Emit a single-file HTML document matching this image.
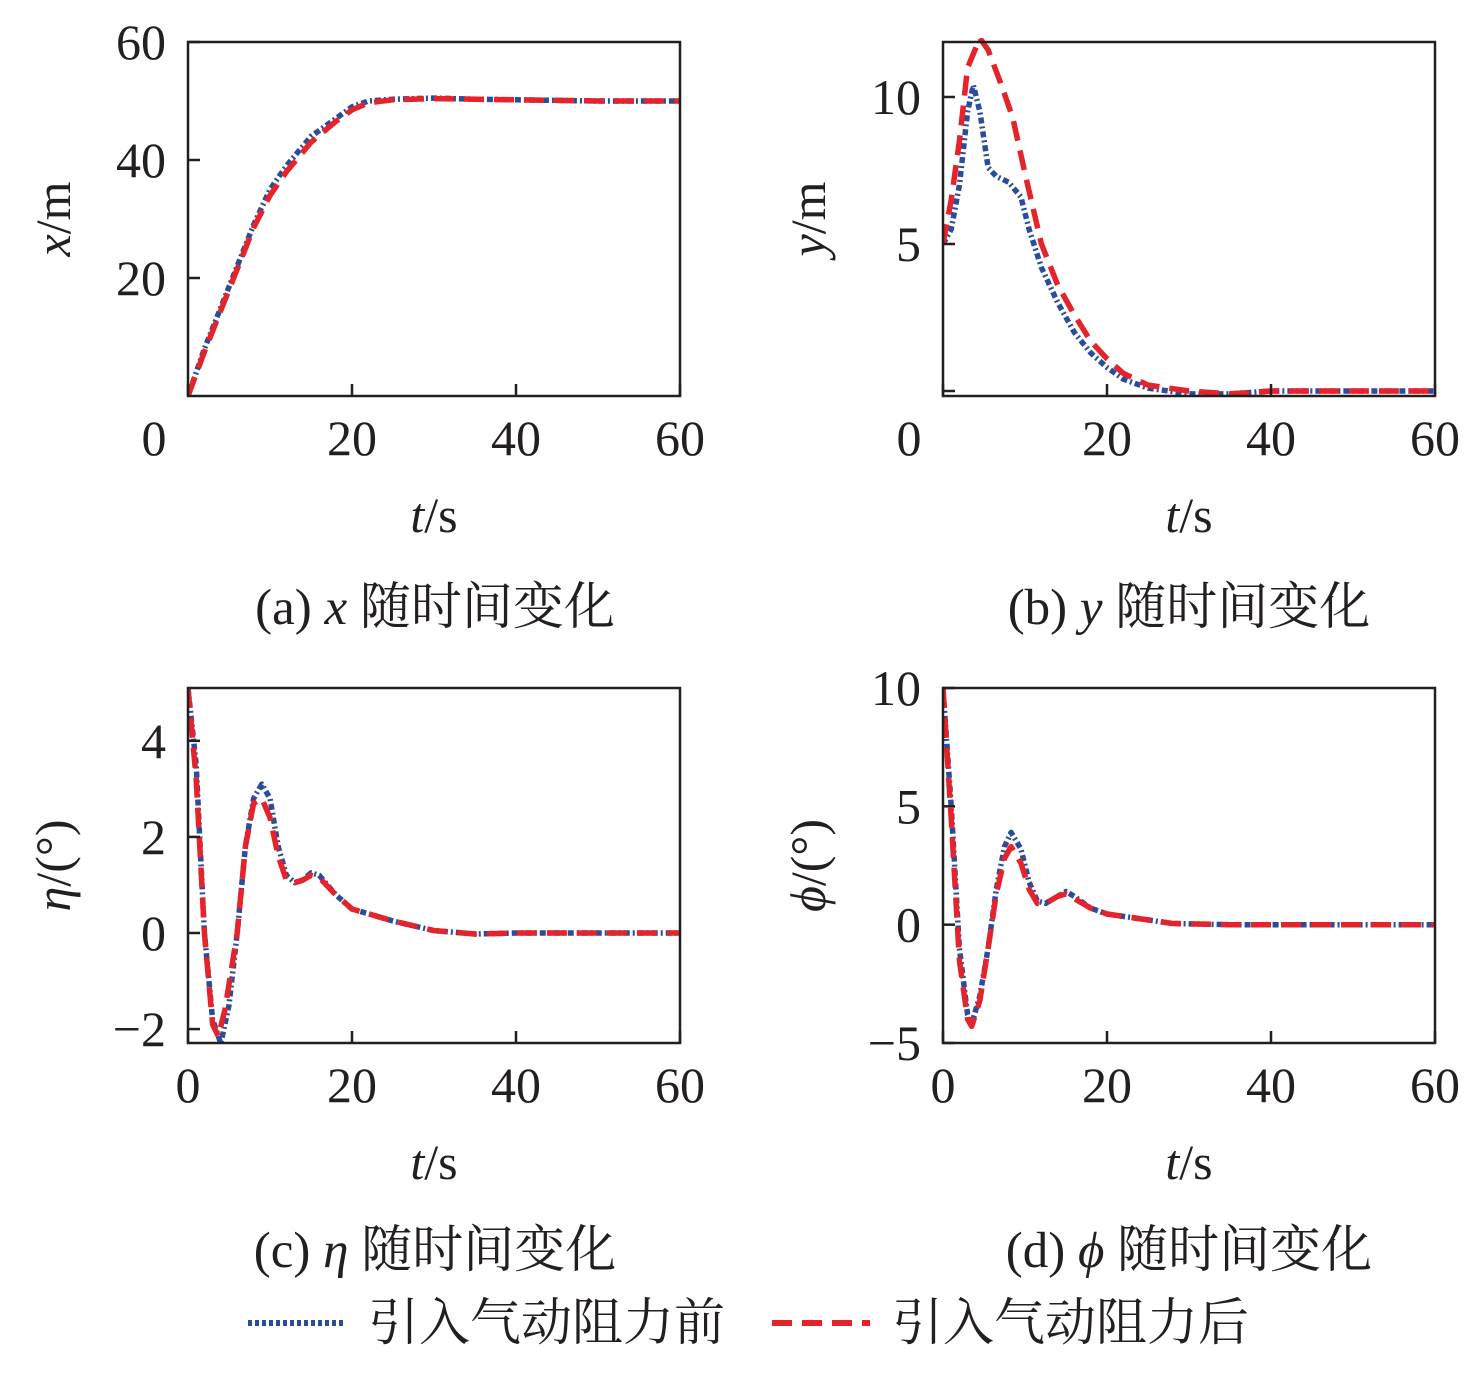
<!DOCTYPE html>
<html><head><meta charset="utf-8"><style>
body{margin:0;background:#fff;}
svg text{font-family:"Liberation Serif","Noto Serif CJK SC",serif;fill:#231f20;}
</style></head><body>
<svg id="chart" width="1476" height="1368" xmlns="http://www.w3.org/2000/svg"></svg>
<script>
const tA=[0,2,4,6,8,10,12,15,18,20,22,25,30,35,40,45,50,55,60];
const xBefore=[0,8,15,22,29,35,39,44,47,49,50,50.3,50.5,50.3,50.2,50.1,50,50,50];
const xAfter=[0,7.5,14.5,21.5,28.5,34,38,43,46.5,48.5,49.7,50.2,50.4,50.3,50.2,50.1,50,50,50];
const tB1=[0,1,2,3,3.7,4.5,5.5,6.5,8,9.5,10.5,12,14,16,18,20,22,25,30,35,40,50,60];
const yBefore=[5,5.5,7,9.5,10.4,9.5,7.6,7.3,7.1,6.6,5.5,4.2,3,2,1.3,0.8,0.4,0.1,-0.1,-0.1,0,0,0];
const tB2=[0,1,2,3,4.5,5.5,7,8.5,10,12,14,16,18,20,22,25,30,35,40,60];
const yAfter=[5,6.5,8.5,11,12,11.6,10.5,9.3,7.4,5,3.6,2.6,1.7,1.1,0.6,0.2,0,-0.1,0,0];
const tC1=[0,1,2,3,4,5,6,7,8,9,10,11,12,13,14,15,16,18,20,25,30,35,40,60];
const etaBefore=[5.1,3.5,0,-1.8,-2.3,-1.5,0,1.8,2.8,3.1,2.8,1.8,1.2,1.05,1.1,1.25,1.2,0.8,0.5,0.25,0.05,-0.02,0,0];
const tC2=[0,1,2,3,3.7,4.5,6,7,8,9,10,11,12,13,14,15,16,18,20,25,30,35,40,60];
const etaAfter=[5.1,3.2,0,-1.9,-2.15,-1.6,0,1.8,2.7,2.8,2.4,1.6,1.1,1.05,1.1,1.2,1.15,0.8,0.5,0.25,0.05,-0.02,0,0];
const tD=[0,1,2,3,3.5,4.5,5.5,6.5,7.5,8.3,9.5,10.5,11.5,12.5,14,15,16,18,20,25,28,35,60];
const phiBefore=[10,5,-1,-3.8,-4.2,-3,-1,1.5,3.3,3.9,3.2,1.8,1,0.9,1.2,1.4,1.2,0.7,0.45,0.2,0.05,0,0];
const phiAfter=[10,4.5,-1.5,-4,-4.3,-3.2,-1,1.3,2.8,3.3,2.6,1.5,0.9,0.9,1.2,1.3,1.1,0.7,0.45,0.2,0.05,0,0];
const xTicks=[0,20,40,60];

const svg=document.getElementById('chart');
const NS='http://www.w3.org/2000/svg';
function mk(tag,attrs,parent){const e=document.createElementNS(NS,tag);for(const k in attrs)e.setAttribute(k,attrs[k]);(parent||svg).appendChild(e);return e;}

const panels=[
 {id:'a',x0:188,x1:680,y0:42,y1:396,ymin:0,ymax:60,yt:[20,40,60],yl:['20','40','60'],xlblY:438,zeroOffset:true,
  ytitle:'<tspan font-style="italic">x</tspan>/m',series:[[tA,xBefore],[tA,xAfter]],
  cap:['(a) ','x',' 随时间变化'],capY:605,capX:435},
 {id:'b',x0:943,x1:1435,y0:42,y1:396,ymin:-0.17,ymax:11.87,yt:[0,5,10],yl:['','5','10'],xlblY:438,zeroOffset:true,
  ytitle:'<tspan font-style="italic">y</tspan>/m',series:[[tB1,yBefore],[tB2,yAfter]],
  cap:['(b) ','y',' 随时间变化'],capY:605,capX:1189},
 {id:'c',x0:188,x1:680,y0:688,y1:1043,ymin:-2.29,ymax:5.1,yt:[-2,0,2,4],yl:['−2','0','2','4'],xlblY:1085,
  ytitle:'<tspan font-style="italic">η</tspan>/(°)',series:[[tC1,etaBefore],[tC2,etaAfter]],
  cap:['(c) ','η',' 随时间变化'],capY:1248,capX:435},
 {id:'d',x0:943,x1:1435,y0:688,y1:1043,ymin:-5,ymax:10,yt:[-5,0,5,10],yl:['−5','0','5','10'],xlblY:1085,
  ytitle:'<tspan font-style="italic">ϕ</tspan>/(°)',series:[[tD,phiBefore],[tD,phiAfter]],
  cap:['(d) ','ϕ',' 随时间变化'],capY:1248,capX:1189}
];
const styles=[{stroke:'#2b4b9b',dash:'6,3,2,3',w:5.5},{stroke:'#e5232b',dash:'20,10',w:5.5}];
panels.forEach(p=>{
  const g=mk('g',{});
  
  
  const sx=t=>p.x0+(t-0)/60*(p.x1-p.x0);
  const sy=v=>p.y1-(v-p.ymin)/(p.ymax-p.ymin)*(p.y1-p.y0);
  const clip=mk('clipPath',{id:'clip'+p.id},g);
  mk('rect',{x:p.x0,y:p.y0-4,width:p.x1-p.x0,height:p.y1-p.y0+4},clip);
  p.series.forEach((s,i)=>{
    const pts=s[0].map((t,j)=>sx(t).toFixed(1)+','+sy(s[1][j]).toFixed(1)).join(' ');
    const pl=mk('polyline',{points:pts,fill:'none',stroke:styles[i].stroke,'stroke-width':styles[i].w,'stroke-dasharray':styles[i].dash,'stroke-linejoin':'round','clip-path':'url(#clip'+p.id+')'},g);
    
    
  });
  const box=mk('rect',{x:p.x0,y:p.y0,width:p.x1-p.x0,height:p.y1-p.y0,fill:'none',stroke:'#231f20','stroke-width':2.5},g);
  
  
  xTicks.forEach(t=>{
    mk('line',{x1:sx(t),x2:sx(t),y1:p.y1,y2:p.y1-12,stroke:'#231f20','stroke-width':2.5},g);
    let lx=sx(t); if(p.zeroOffset&&t===0) lx=p.x0-34;
    const tx=mk('text',{x:lx,y:p.xlblY+17,'font-size':50,'text-anchor':'middle'},g);
    tx.textContent=t;
    
    
  });
  p.yt.forEach((v,i)=>{
    mk('line',{x1:p.x0,x2:p.x0+12,y1:sy(v),y2:sy(v),stroke:'#231f20','stroke-width':2.5},g);
    if(p.yl[i]){const tx=mk('text',{x:p.x0-22,y:sy(v)+17,'font-size':50,'text-anchor':'end'},g);
    tx.textContent=p.yl[i];
    
    }
  });
  const xt=mk('text',{x:(p.x0+p.x1)/2,y:p.xlblY+94,'font-size':50,'text-anchor':'middle'},g);
  xt.innerHTML='<tspan font-style="italic">t</tspan>/s';
  
  
  const cy=(p.y0+p.y1)/2;
  const yt=mk('text',{x:0,y:0,'font-size':50,'text-anchor':'middle',transform:'translate('+(p.x0-118)+','+cy+') rotate(-90)'},g);
  yt.innerHTML=p.ytitle;
  
  
  const cap=mk('text',{x:p.capX,y:p.capY+19,'font-size':51,'text-anchor':'middle'},g);
  cap.innerHTML=p.cap[0]+'<tspan font-style="italic">'+p.cap[1]+'</tspan>'+p.cap[2];
  
  
});
const lg=mk('g',{});


[[248,'引入气动阻力前',0],[772,'引入气动阻力后',1]].forEach(e=>{
  const li=mk('line',{x1:e[0],x2:e[0]+98,y1:1323,y2:1323,stroke:styles[e[2]].stroke,'stroke-width':6,'stroke-dasharray':e[2]==0?'4,3':'20,10'},lg);
  
  
  const t=mk('text',{x:e[0]+120,y:1340,'font-size':51},lg);
  t.textContent=e[1];
  
  
});
</script>
</body></html>
